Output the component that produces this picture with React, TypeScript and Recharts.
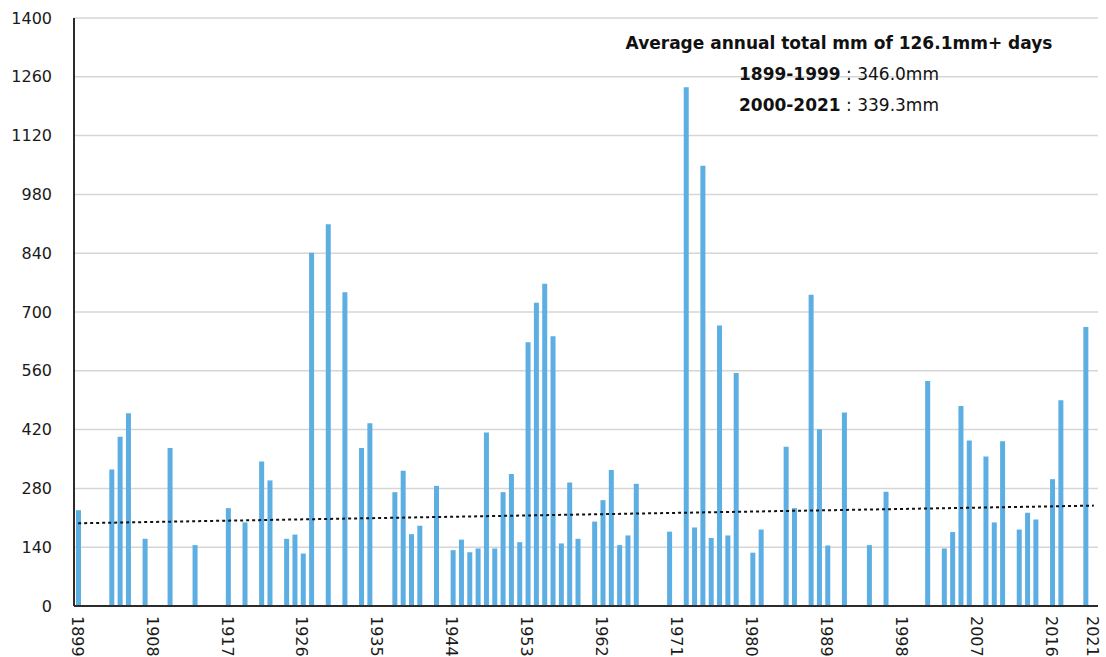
import React from "react";
import { BarChart, Bar, XAxis, YAxis, CartesianGrid, ReferenceLine } from "recharts";

const FIRST_YEAR = 1899;
const LAST_YEAR = 2021;

const years = Array.from({ length: LAST_YEAR - FIRST_YEAR + 1 }, (_, i) => FIRST_YEAR + i);

// annual total mm of 126.1mm+ days, null = no such day that year
const totals: (number | null)[] = [
  228, null, null, null, 325, 403, 459, null, 160, null, // 1899-1908
  null, 376, null, null, 145, null, null, null, 233, null, // 1909-1918
  199, null, 344, 299, null, 160, 170, 125, 841, null, // 1919-1928
  909, null, 747, null, 376, 435, null, null, 271, 322, // 1929-1938
  171, 191, null, 286, null, 133, 158, 128, 137, 413, // 1939-1948
  137, 271, 314, 152, 628, 722, 767, 642, 149, 294, // 1949-1958
  160, null, 201, 252, 324, 145, 168, 291, null, null, // 1959-1968
  null, 177, null, 1235, 187, 1048, 162, 668, 168, 555, // 1969-1978
  null, 127, 182, null, null, 379, 233, null, 741, 421, // 1979-1988
  144, null, 461, null, null, 145, null, 272, null, null, // 1989-1998
  null, null, 536, null, 137, 176, 476, 394, null, 356, // 1999-2008
  199, 392, null, 182, 222, 206, null, 302, 490, null, // 2009-2018
  null, 664, null, // 2019-2021
];

const yTicks = [0, 140, 280, 420, 560, 700, 840, 980, 1120, 1260, 1400];
const xTickYears = [1899, 1908, 1917, 1926, 1935, 1944, 1953, 1962, 1971, 1980, 1989, 1998, 2007, 2016, 2021];

// linear trend end points (mm)
const trendYears = [1899, 2021];
const trendValues = [197, 239];

const data = years.map((year, i) => ({ year, total: totals[i] }));

const FONT = "'DejaVu Sans', Verdana, sans-serif";

function YearTick(props: any) {
  const { x, y, payload } = props;
  if (!xTickYears.includes(payload.value)) return null;
  return (
    <text
      x={0}
      y={0}
      transform={`translate(${x - 1},${y + 2}) rotate(90)`}
      textAnchor="start"
      dominantBaseline="central"
      fontSize={16}
      fontFamily={FONT}
      fill="#1a1a1a"
    >
      {payload.value}
    </text>
  );
}

export default function App() {
  return (
    <div style={{ position: "absolute", left: 0, top: 0, width: 1106, height: 657, background: "#fff", overflow: "hidden" }}>
      <BarChart width={1106} height={657} data={data} margin={{ top: 18, right: 8, left: 0, bottom: 0 }}>
        <CartesianGrid vertical={false} stroke="#d6d6d6" strokeWidth={1.5} />
        <XAxis
          dataKey="year"
          interval={0}
          height={51}
          tickLine={false}
          axisLine={{ stroke: "#2b2b2b", strokeWidth: 2 }}
          tick={YearTick}
        />
        <XAxis xAxisId="top" dataKey="year" orientation="top" height={0} tick={false} tickLine={false} axisLine={{ stroke: "#2b2b2b", strokeWidth: 2 }} />
        <YAxis
          domain={[0, 1400]}
          ticks={yTicks}
          width={74}
          tickLine={false}
          tickSize={0}
          tickMargin={22}
          axisLine={{ stroke: "#2b2b2b", strokeWidth: 2 }}
          tick={{ fontSize: 16, fontFamily: FONT, fill: "#1a1a1a" }}
        />
        <YAxis yAxisId="right" orientation="right" domain={[0, 1400]} width={0} tick={false} tickLine={false} axisLine={{ stroke: "#2b2b2b", strokeWidth: 2 }} />
        <Bar dataKey="total" fill="#5daee3" barSize={5} isAnimationActive={false} />
        <ReferenceLine
          segment={[
            { x: trendYears[0], y: trendValues[0] },
            { x: trendYears[1], y: trendValues[1] },
          ]}
          stroke="#111"
          strokeWidth={2}
          strokeDasharray="3 3"
          ifOverflow="visible"
        />
      </BarChart>
      <div style={{ position: "absolute", left: 589, top: 28, width: 500, textAlign: "center", fontFamily: FONT, fontSize: 17, color: "#111", lineHeight: "31px" }}>
        <div style={{ fontWeight: "bold" }}>Average annual total mm of 126.1mm+ days</div>
        <div>
          <b>1899-1999</b> : 346.0mm
        </div>
        <div>
          <b>2000-2021</b> : 339.3mm
        </div>
      </div>
    </div>
  );
}
